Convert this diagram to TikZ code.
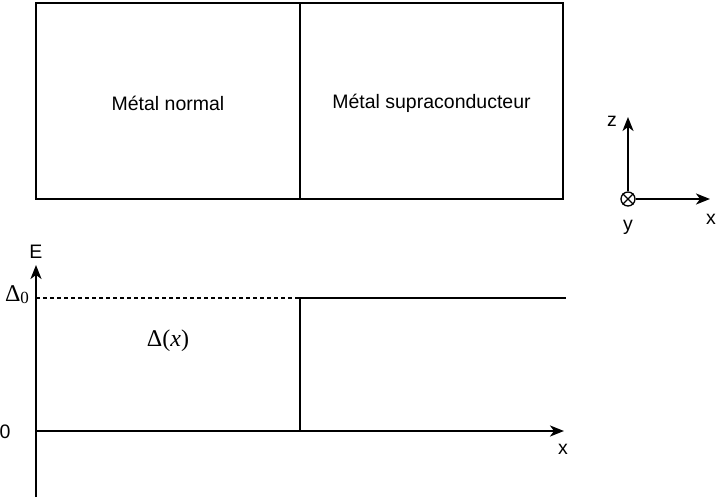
\documentclass[tikz,border=0pt]{standalone}
\usepackage{fontspec}
\setmainfont{Liberation Sans}
\newfontfamily\serifmath{Liberation Serif}
\usetikzlibrary{arrows.meta}
\tikzset{
  ln/.style={line width=1.8pt, line cap=rect},
  arr/.style={line width=1.8pt, line cap=butt, -{Stealth[length=14pt,width=11pt,inset=4pt]}},
  lbl/.style={font=\fontsize{19.5}{23}\selectfont, inner sep=0pt},
  mlbl/.style={font=\fontsize{24}{28}\selectfont\serifmath, inner sep=0pt},
  box/.style={draw, line width=1.8pt, inner sep=0pt},
}
\begin{document}
\begin{tikzpicture}[x=1pt,y=-1pt]
\useasboundingbox (0,0) rectangle (725,503);
% top boxes
\node[box, minimum width=264pt, minimum height=196pt] (normal) at (168,101) {};
\node[box, minimum width=263pt, minimum height=196pt] (supra) at (431.5,101) {};
\node[lbl] at ([yshift=-2pt]normal.center) {Métal normal};
\node[lbl] at ([yshift=-2pt]supra.center) {Métal supraconducteur};
% axes triad
\node[draw, circle, line width=1.3pt, minimum size=14pt, inner sep=0pt] (o) at (628,199) {};
\draw[line width=1.2pt] (o.north west) -- (o.south east) (o.north east) -- (o.south west);
\coordinate (ztip) at (628,117);
\coordinate (xtip) at (710,199);
\draw[arr] (o.north) -- (ztip);
\draw[arr] (o.east) -- (xtip);
\node[lbl] (zl) at (612,121) {z};
\node[lbl] (xl) at (711,219) {x};
\node[lbl] (yl) at (628,227) {y};
% energy diagram
\coordinate (Ebot) at (36,497);
\coordinate (Etop) at (36,265);
\coordinate (orig) at (36,431);
\coordinate (xend) at (564,431);
\draw[arr] (Ebot) -- (Etop);
\draw[arr] (orig) -- (xend);
\node[lbl] (El) at (36,252) {E};
\node[lbl] (xl2) at (563,449) {x};
\node[lbl] (zero) at (5,432) {0};
\coordinate (d0) at (36,298);
\coordinate (stp) at (300,298);
\coordinate (stpb) at (300,431);
\coordinate (dend) at (565,298);
\draw[line width=1.8pt, dash pattern=on 4pt off 3pt] (d0) -- (stp);
\draw[ln] (stp) -- (dend);
\draw[ln] (stp) -- (stpb);
\node[mlbl] (D0) at (17,295) {Δ\raisebox{-0.2ex}{\fontsize{17}{19}\selectfont 0}};
\node[mlbl] (Dx) at (168,341) {Δ(\textit{x})};
\end{tikzpicture}
\end{document}
